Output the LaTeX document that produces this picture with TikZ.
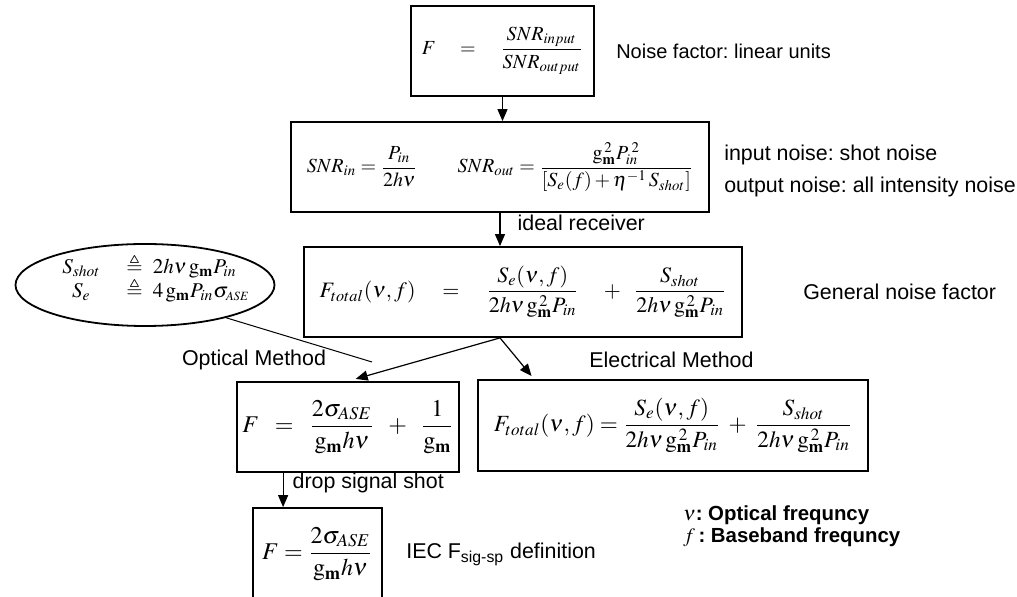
\documentclass[tikz,border=0pt]{standalone}
\usepackage{amsmath}
\usepackage{mathptmx}
\usepackage{amssymb}
\usepackage[no-math]{fontspec}
\setmainfont{Liberation Sans}
\usepackage{tikz}
\usetikzlibrary{arrows.meta, positioning, shapes.geometric, calc}

\newcommand{\gmm}{\mathrm{g}_{\mathbf{m}}}
\frenchspacing

\begin{document}
\begin{tikzpicture}[
    x=0.5pt, y=-0.5pt,
    box/.style={draw, line width=0.9pt, inner sep=0pt, font=\fontsize{11}{13}\selectfont},
    lbl/.style={font=\fontsize{10.7}{16}\selectfont, inner sep=0pt, align=left},
    arr/.style={-{Triangle[length=6pt, width=5pt]}, line width=0.6pt}
  ]
  \clip (0,0) rectangle (1017,597);

  \node[box, minimum width=91.5pt, minimum height=45pt, font=\fontsize{10}{12}\selectfont] (ratio) at (502.5,51)
    {$F \quad = \quad \dfrac{SNR_{input}}{SNR_{output}}$};
  \node[lbl, right=10.5pt of ratio, font=\fontsize{10}{12}\selectfont] (lin) {Noise factor: linear units};

  \node[box, minimum width=209pt, minimum height=45pt, font=\fontsize{10}{12}\selectfont] (snr) at (500,167)
    {$SNR_{in} = \dfrac{P_{in}}{2h\nu} \qquad SNR_{out} = \dfrac{\gmm^{\,2} P_{in}^{\;2}}{\left[S_e(f) + \eta^{-1}\, S_{shot}\right]}$};
  \node[lbl, right=7pt of snr, yshift=-2pt] (noise) {input noise: shot noise\\output noise: all intensity noise};

  \node[box, minimum width=219pt, minimum height=45pt] (general) at (523,292)
    {$F_{total}(\nu,f) \quad = \quad \dfrac{S_e(\nu,f)}{2h\nu\,\gmm^{\,2}P_{in}} \quad + \;\; \dfrac{S_{shot}}{2h\nu\,\gmm^{\,2}P_{in}}$};
  \node[lbl, right=30pt of general] (gen) {General noise factor};

  \node[draw, ellipse, line width=0.9pt, minimum width=129.5pt, minimum height=41pt, inner sep=0pt] (defs) at (145,285) {};
  \node[anchor=west, inner sep=0pt, font=\fontsize{10.5}{11}\selectfont] (defstext) at (62,278)
    {$\renewcommand{\arraystretch}{0.66}\begin{array}{@{}c@{\hspace{13pt}}c@{\hspace{5pt}}l@{}}
      S_{shot} & \triangleq & 2h\nu\,\gmm P_{in}\\
      S_e & \triangleq & 4\,\gmm P_{in}\sigma_{\scriptscriptstyle ASE}
    \end{array}$};

  \node[box, minimum width=111pt, minimum height=45pt, font=\fontsize{12}{14}\selectfont] (optical) at (348,427)
    {$F \;\;=\;\; \dfrac{2\sigma_{ASE}}{\gmm h\nu} \;\;+\;\; \dfrac{1}{\gmm}$};
  \node[box, minimum width=195pt, minimum height=45.5pt, font=\fontsize{11.6}{14}\selectfont] (electrical) at (673,425.5)
    {$F_{total}(\nu,f) = \dfrac{S_e(\nu,f)}{2h\nu\,\gmm^{\,2}P_{in}} \;+\; \dfrac{S_{shot}}{2h\nu\,\gmm^{\,2}P_{in}}$};
  \node[box, minimum width=64.5pt, minimum height=46pt, font=\fontsize{12}{14}\selectfont] (iec) at (317.5,554)
    {$F = \dfrac{2\sigma_{ASE}}{\gmm h\nu}$};
  \node[lbl, right=11.5pt of iec] (ieclbl) {IEC F\textsubscript{sig-sp} definition};

  \node[lbl] (optlbl) at (254,360) {Optical Method};
  \node[lbl] (eleclbl) at (671.5,360) {Electrical Method};
  \node[lbl, anchor=west, font=\bfseries\fontsize{10.2}{11}\selectfont] (legend) at (683,526)
    {$\nu$: Optical frequncy\\$f$\,: Baseband frequncy};

  % flow
  \draw[arr] (ratio.south) -- (ratio.south |- snr.north);
  \draw[arr] (snr.south) -- (snr.south |- general.north)
    node[lbl, anchor=west, pos=0.3, xshift=8.5pt] (ideal) {ideal receiver};
  \coordinate (split) at ($(general.south)+(-23,0)$);
  \coordinate (elecin) at ($(electrical.north west)+(57,0)$);
  \draw[arr, shorten >=4pt] (split) -- (optical.north);
  \draw[arr, shorten >=2pt] (split) -- (elecin);
  \coordinate (pointer) at (372,362);
  \draw[line width=0.5pt] (defs.-22) -- (pointer);
  \coordinate (dropout) at ($(optical.south west)+(47,0)$);
  \draw[arr] (dropout) -- (dropout |- iec.north)
    node[lbl, anchor=west, pos=0.3, xshift=4.5pt] (drop) {drop signal shot};
\end{tikzpicture}
\end{document}
